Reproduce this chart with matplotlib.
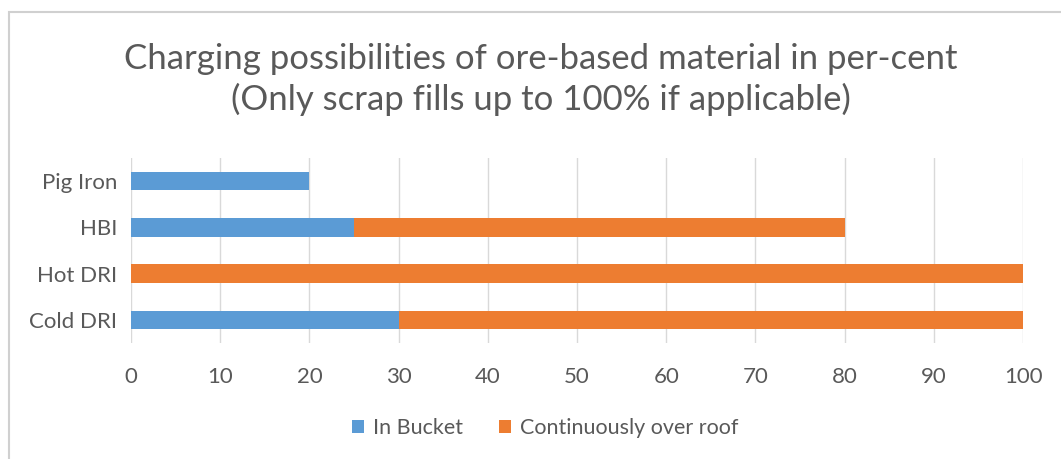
import matplotlib
matplotlib.use("Agg")
import matplotlib.pyplot as plt
from matplotlib.patches import Rectangle

categories = ["Cold DRI", "Hot DRI", "HBI", "Pig Iron"]
in_bucket = [30, 0, 25, 20]
over_roof = [70, 100, 55, 0]
series_names = ["In Bucket", "Continuously over roof"]
xticks = [0, 10, 20, 30, 40, 50, 60, 70, 80, 90, 100]
title = "Charging possibilities of ore-based material in per-cent\n(Only scrap fills up to 100% if applicable)"

BLUE = "#5B9BD5"
ORANGE = "#ED7D31"
TXT = "#595959"
GRID = "#D9D9D9"

plt.rcParams['font.family'] = ['Lato', 'DejaVu Sans']

fig = plt.figure(figsize=(10.61, 4.59), dpi=100)
ax = fig.add_axes([0.1235, 0.2527, 0.8407, 0.4031])

y = list(range(len(categories)))
ax.barh(y, in_bucket, height=0.4, color=BLUE, label=series_names[0], zorder=3)
ax.barh(y, over_roof, left=in_bucket, height=0.4, color=ORANGE, label=series_names[1], zorder=3)

ax.set_xlim(0, 100)
ax.set_ylim(-0.5, len(categories) - 0.5)
ax.set_xticks(xticks)
ax.set_yticks(y)
ax.set_yticklabels(categories)
ax.xaxis.grid(True, color=GRID, linewidth=1, zorder=0)
for s in ax.spines.values():
    s.set_visible(False)
ax.tick_params(axis='both', length=0, labelsize=16, colors=TXT)
ax.tick_params(axis='x', pad=17)
ax.tick_params(axis='y', pad=10)

fig.text(0.51, 0.827, title, ha='center', va='center', fontsize=25, color=TXT,
         linespacing=1.3)

leg = fig.legend(loc='center', bbox_to_anchor=(0.514, 0.068), ncol=2, frameon=False,
                 fontsize=15.5, handlelength=0.55, handleheight=0.55, columnspacing=1.7,
                 handletextpad=0.4)
for t in leg.get_texts():
    t.set_color(TXT)

fig.add_artist(Rectangle((9 / 1061, -0.1), 1.2, 1 - 12 / 459 + 0.1, transform=fig.transFigure,
                         fill=False, edgecolor="#D0D0D0", linewidth=1.5))

fig.savefig("out.png", dpi=100, facecolor="white")
